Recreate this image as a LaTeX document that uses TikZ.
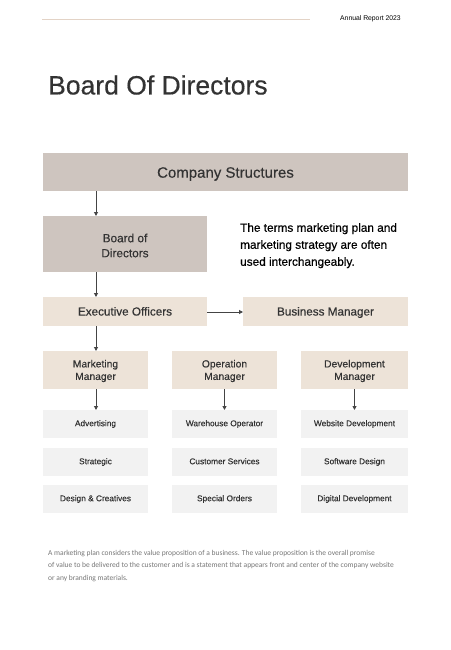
\documentclass[tikz,border=0pt]{standalone}
\usepackage{fontspec}
\setmainfont{Liberation Sans}
\newfontfamily\medfont[FakeBold=0.35]{Liberation Sans}
\newfontfamily\footfont{Carlito}
\usetikzlibrary{arrows.meta}
\definecolor{boxdark}{HTML}{CEC5BF}
\definecolor{boxbeige}{HTML}{EDE3D8}
\definecolor{boxgray}{HTML}{F2F2F2}
\definecolor{txtdark}{HTML}{333333}
\definecolor{linebeige}{HTML}{E3D3C6}
\definecolor{arrowc}{HTML}{444444}
\definecolor{footc}{HTML}{777777}
\begin{document}
\begin{tikzpicture}[x=1pt,y=-1pt,
  box/.style={inner sep=0pt, text=txtdark, align=center},
  rowtxt/.style={box, text height=6.2pt, text depth=1.8pt, font=\medfont\fontsize{8.3}{10}\selectfont},
  arr/.style={draw=arrowc, line width=0.9pt, -{Triangle[length=4pt,width=4pt]}},
  font=\color{txtdark}]
\useasboundingbox (0,0) rectangle (450,650);
\fill[white] (0,0) rectangle (450,650);
% header
\coordinate (hl1) at (42,19.5);
\coordinate (hl2) at (310,19.5);
\draw[linebeige, line width=1.2pt] (hl1) -- (hl2);
\node[anchor=west, inner sep=0pt, font=\fontsize{6.8}{8}\selectfont] (ar) at (340,19) {Annual Report 2023};
\node[anchor=west, inner sep=0pt, text=txtdark, font=\medfont\fontsize{26.5}{32}\selectfont] (title) at (48,85) {Board Of Directors};
% boxes
\fill[boxdark] (43,153) rectangle (408,191);
\node[box, font=\medfont\fontsize{15}{18}\selectfont] (cs) at (225.5,174) {Company Structures};
\fill[boxdark] (43,216) rectangle (207,272);
\node[box, font=\medfont\fontsize{11.8}{15}\selectfont] (bd) at (125,245.5) {Board of\\Directors};
\node[anchor=north west, inner sep=0pt, align=left, font=\medfont\fontsize{11.8}{17}\selectfont] (txt) at (240,223) {The terms marketing plan and\\marketing strategy are often\\used interchangeably.};
\fill[boxbeige] (43,297) rectangle (207,326);
\node[box, text height=8.6pt, text depth=2.5pt, font=\medfont\fontsize{11.7}{15}\selectfont] (eo) at (125,312.5) {Executive Officers};
\fill[boxbeige] (243,297) rectangle (408,326);
\node[box, text height=8.6pt, text depth=2.5pt, font=\medfont\fontsize{11.7}{15}\selectfont] (bm) at (325.5,312.5) {Business Manager};
% managers
\foreach \n/\xa/\xb/\t in {mm/43/148/{Marketing\\Manager}, om/172/277/{Operation\\Manager}, dm/301/408/{Development\\Manager}}{
  \fill[boxbeige] (\xa,351) rectangle (\xb,389);
  \node[box, font=\medfont\fontsize{10.3}{12.5}\selectfont] (\n) at ({(\xa+\xb)/2},371) {\t};
}
% rows
\foreach \n/\xa/\xb/\y/\t in {
  a1/43/148/424/{Advertising}, a2/43/148/462/{Strategic}, a3/43/148/499/{Design \& Creatives},
  b1/172/277/424/{Warehouse Operator}, b2/172/277/462/{Customer Services}, b3/172/277/499/{Special Orders},
  c1/301/408/424/{Website Development}, c2/301/408/462/{Software Design}, c3/301/408/499/{Digital Development}}{
  \fill[boxgray] (\xa,\y-14) rectangle (\xb,\y+14);
  \node[rowtxt] (\n) at ({(\xa+\xb)/2},\y) {\t};
}
% arrow anchors
\coordinate (p1) at (96,191); \coordinate (q1) at (96,216);
\coordinate (p2) at (96,272); \coordinate (q2) at (96,297);
\coordinate (p3) at (207,312); \coordinate (q3) at (243,312);
\coordinate (p4) at (96,326); \coordinate (q4) at (96,351);
\coordinate (p5) at (96,389); \coordinate (q5) at (96,410);
\coordinate (p6) at (224.5,389); \coordinate (q6) at (224.5,410);
\coordinate (p7) at (354.5,389); \coordinate (q7) at (354.5,410);
\foreach \i in {1,...,7}{\draw[arr] (p\i) -- (q\i);}
% footer
\node[anchor=north west, inner sep=0pt, align=left, text=footc, font=\footfont\fontsize{7.5}{12.3}\selectfont] (foot) at (48,550) {A marketing plan considers the value proposition of a business. The value proposition is the overall promise\\of value to be delivered to the customer and is a statement that appears front and center of the company website\\or any branding materials.};
\end{tikzpicture}
\end{document}
